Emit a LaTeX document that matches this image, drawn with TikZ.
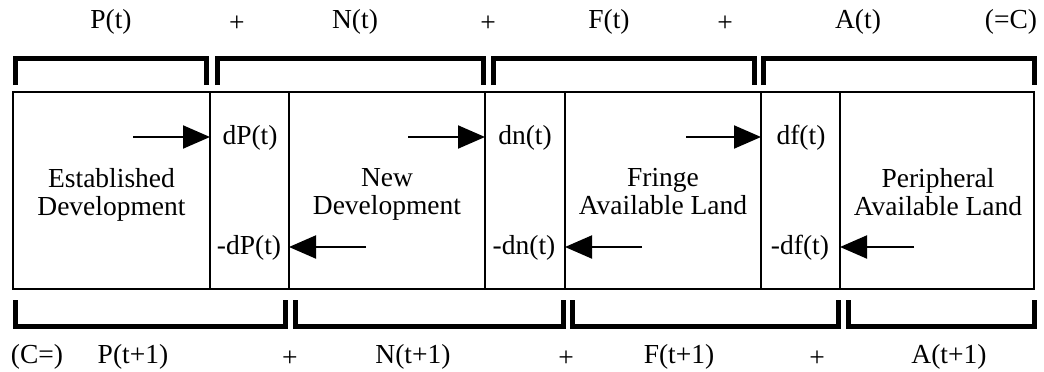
\documentclass[tikz,border=0pt]{standalone}
\usepackage{fontspec}
\setmainfont{Liberation Serif}
\usetikzlibrary{arrows.meta}
\begin{document}
\begin{tikzpicture}[x=1pt,y=-1pt,
  lbl/.style={inner sep=0pt,font=\fontsize{27.5}{28}\selectfont,anchor=center},
  boxtxt/.style={inner sep=0pt,align=center,text depth=7pt,font=\fontsize{27.5}{28}\selectfont},
  frame/.style={line width=2pt,line join=miter},
  brk/.style={line width=5pt,line join=miter,line cap=butt},
  flow/.style={line width=2pt,-{Triangle[length=27pt,width=23pt]}}]
\useasboundingbox (0,0) rectangle (1044,372);
% main box and dividers
\draw[frame] (13,92) rectangle (1034,289);
\foreach \x/\n in {210/d1,289/d2,485/d3,565/d4,761/d5,840/d6}{
  \coordinate (\n t) at (\x,92); \coordinate (\n b) at (\x,289);
  \draw[frame] (\n t) -- (\n b);
}
% top brackets
\draw[brk] (15,85) -- (15,58) -- (206.5,58) -- (206.5,85);
\draw[brk] (217.5,85) -- (217.5,58) -- (483,58) -- (483,85);
\draw[brk] (493,85) -- (493,58) -- (754,58) -- (754,85);
\draw[brk] (763.5,85) -- (763.5,58) -- (1034,58) -- (1034,85);
% bottom brackets
\draw[brk] (15,300) -- (15,326) -- (285.5,326) -- (285.5,300);
\draw[brk] (295,300) -- (295,326) -- (563,326) -- (563,300);
\draw[brk] (572.5,300) -- (572.5,326) -- (838,326) -- (838,300);
\draw[brk] (848,300) -- (848,326) -- (1034,326) -- (1034,300);
% top labels
\node[lbl] (tP) at (111,22) {P(t)};
\node[lbl] (tp1) at (237,24) {+};
\node[lbl] (tN) at (355,22) {N(t)};
\node[lbl] (tp2) at (488,24) {+};
\node[lbl] (tF) at (609,22) {F(t)};
\node[lbl] (tp3) at (725,24) {+};
\node[lbl] (tA) at (858,22) {A(t)};
\node[lbl] (tC) at (1011,22) {(=C)};
% bottom labels
\node[lbl] (bC) at (37,357) {(C=)};
\node[lbl] (bP) at (133,357) {P(t+1)};
\node[lbl] (bp1) at (290,359) {+};
\node[lbl] (bN) at (413,357) {N(t+1)};
\node[lbl] (bp2) at (566,359) {+};
\node[lbl] (bF) at (679,357) {F(t+1)};
\node[lbl] (bp3) at (817,359) {+};
\node[lbl] (bA) at (949,357) {A(t+1)};
% box texts
\node[boxtxt] (est) at (111.5,195) {Established\\Development};
\node[boxtxt] (new) at (387,195) {New\\Development};
\node[boxtxt] (fri) at (663,195) {Fringe\\Available Land};
\node[boxtxt] (per) at (938,195) {Peripheral\\Available Land};
% flow labels
\node[lbl] (dP) at (250,138) {dP(t)};
\node[lbl] (mdP) at (249,248) {-dP(t)};
\node[lbl] (dn) at (525,138) {dn(t)};
\node[lbl] (mdn) at (524,248) {-dn(t)};
\node[lbl] (df) at (801,138) {df(t)};
\node[lbl] (mdf) at (800,248) {-df(t)};
% arrows
\coordinate (a1s) at (133,137); \coordinate (a1e) at (210,137);
\coordinate (a2s) at (408,137); \coordinate (a2e) at (485,137);
\coordinate (a3s) at (686,137); \coordinate (a3e) at (761,137);
\coordinate (b1s) at (366,247); \coordinate (b1e) at (289,247);
\coordinate (b2s) at (642,247); \coordinate (b2e) at (565,247);
\coordinate (b3s) at (914,247); \coordinate (b3e) at (840,247);
\draw[flow] (a1s) -- (a1e);
\draw[flow] (a2s) -- (a2e);
\draw[flow] (a3s) -- (a3e);
\draw[flow] (b1s) -- (b1e);
\draw[flow] (b2s) -- (b2e);
\draw[flow] (b3s) -- (b3e);
\end{tikzpicture}
\end{document}
